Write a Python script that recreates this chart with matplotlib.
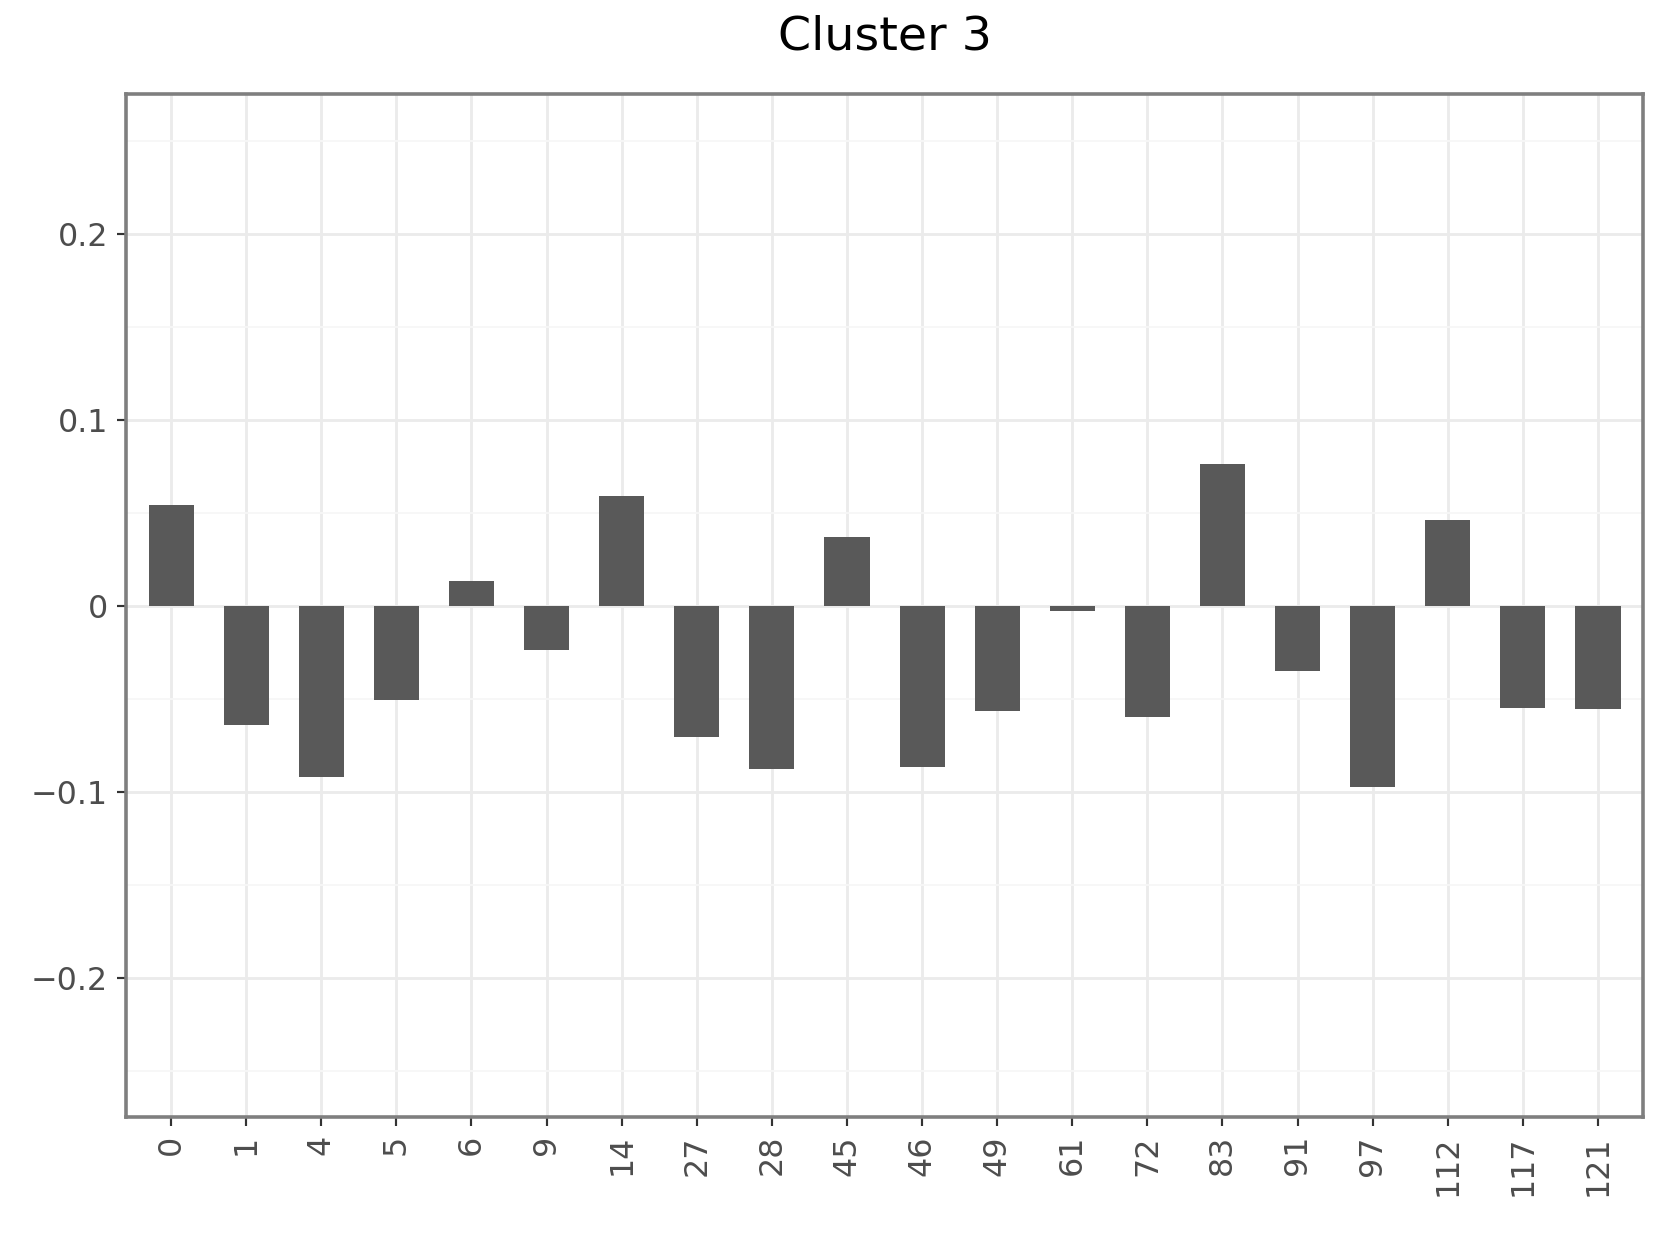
import matplotlib.pyplot as plt
import numpy as np

categories = ['0', '1', '4', '5', '6', '9', '14', '27', '28', '45',
              '46', '49', '61', '72', '83', '91', '97', '112', '117', '121']
values = [0.054, -0.064, -0.092, -0.0505, 0.0135, -0.024, 0.0588, -0.0706, -0.088, 0.0367,
          -0.0867, -0.0565, -0.003, -0.0597, 0.0762, -0.0353, -0.0978, 0.0459, -0.0552, -0.0557]
y_ticks = [-0.2, -0.1, 0, 0.1, 0.2]
y_tick_labels = ['\u22120.2', '\u22120.1', '0', '0.1', '0.2']
y_minor = [-0.25, -0.15, -0.05, 0.05, 0.15, 0.25]

fig = plt.figure(figsize=(6.4, 4.8), dpi=259.375)
ax = fig.add_axes([0.0759, 0.1028, 0.9139, 0.8215])

x = np.arange(len(categories))
ax.bar(x, values, width=0.6, color='#595959', zorder=3)

ax.set_xlim(-0.6, len(categories) - 0.4)
ax.set_ylim(-0.275, 0.275)

ax.set_xticks(x)
ax.set_xticklabels(categories, rotation=90)
ax.set_yticks(y_ticks)
ax.set_yticklabels(y_tick_labels)
ax.set_yticks(y_minor, minor=True)

ax.grid(which='major', color='#ebebeb', linewidth=0.8, zorder=0)
ax.grid(which='minor', axis='y', color='#f7f7f7', linewidth=0.5, zorder=0)
ax.set_axisbelow(True)

ax.tick_params(which='major', length=2.5, width=0.6, color='#333333',
               labelsize=8.8, labelcolor='#4d4d4d', pad=2.5)
ax.tick_params(which='minor', length=0)
for s in ax.spines.values():
    s.set_color('#7f7f7f')
    s.set_linewidth(1.0)

fig.text(0.5328, 0.97, 'Cluster 3', ha='center', va='center', fontsize=13.2, color='black')

fig.savefig('out.png', dpi=259.375)
